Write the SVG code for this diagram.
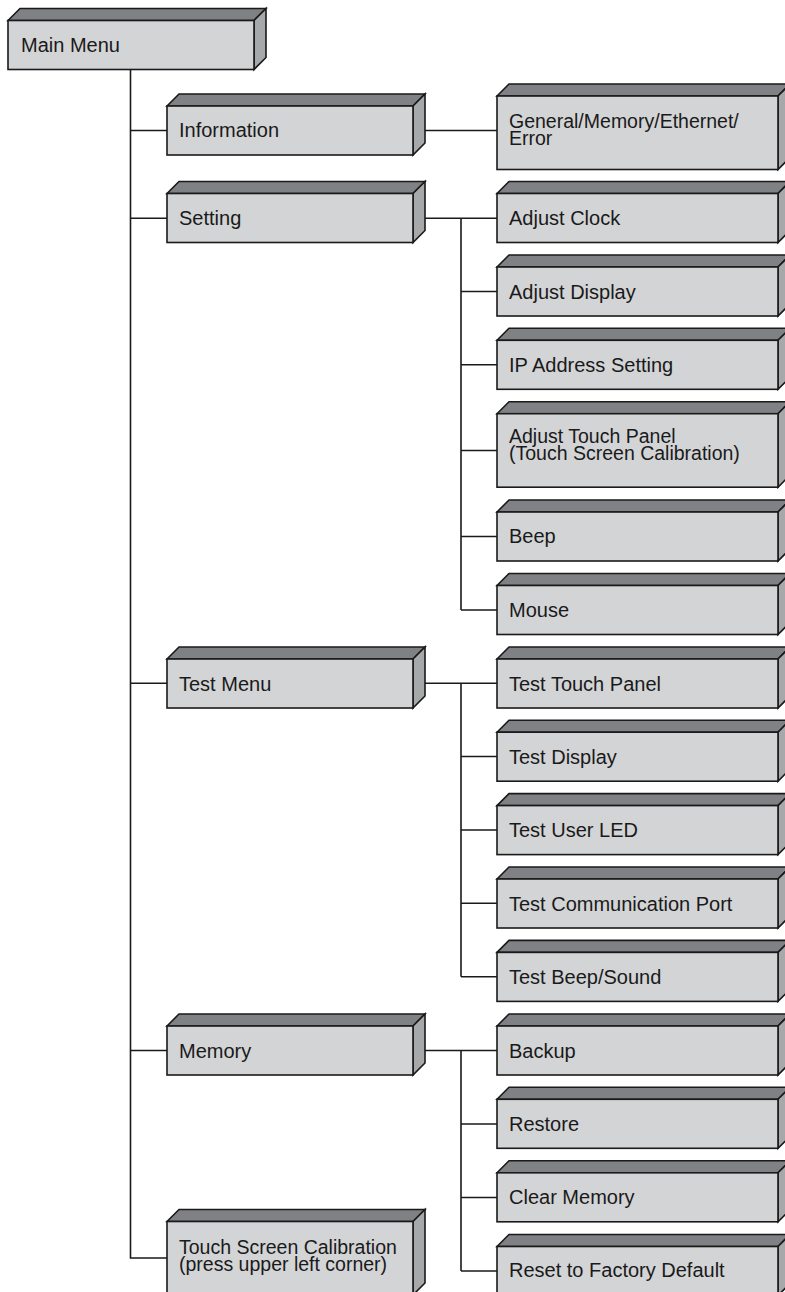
<svg xmlns="http://www.w3.org/2000/svg" xmlns:xlink="http://www.w3.org/1999/xlink" width="785" height="1292" viewBox="0 0 785 1292">
<style>
.f{fill:#d3d4d6;stroke:#1a1a1a;stroke-width:1.6;stroke-linejoin:miter}
.t{fill:#808184;stroke:#1a1a1a;stroke-width:1.6;stroke-linejoin:miter}
.s{fill:#a7a8aa;stroke:#1a1a1a;stroke-width:1.6;stroke-linejoin:miter}
.c{fill:none;stroke:#1a1a1a;stroke-width:1.6}
text{font-family:"Liberation Sans",Arial,Helvetica,sans-serif;font-size:20px;fill:#1a1a1a}
text.m{font-size:19.5px}
</style>
<defs>
<symbol id="bL1" overflow="visible"><polygon class="t" points="0,0 12,-12 258,-12 246,0"/><polygon class="s" points="246,0 258,-12 258,37 246,49"/><rect class="f" x="0" y="0" width="246" height="49"/></symbol>
<symbol id="bL2" overflow="visible"><polygon class="t" points="0,0 12,-12 258,-12 246,0"/><polygon class="s" points="246,0 258,-12 258,61.5 246,73.5"/><rect class="f" x="0" y="0" width="246" height="73.5"/></symbol>
<symbol id="bR1" overflow="visible"><polygon class="t" points="0,0 12,-12 293,-12 281,0"/><polygon class="s" points="281,0 293,-12 293,37 281,49"/><rect class="f" x="0" y="0" width="281" height="49"/></symbol>
<symbol id="bR2" overflow="visible"><polygon class="t" points="0,0 12,-12 293,-12 281,0"/><polygon class="s" points="281,0 293,-12 293,61.5 281,73.5"/><rect class="f" x="0" y="0" width="281" height="73.5"/></symbol>
</defs>
<g id="connectors">
<path class="c" d="M130.5,69 V1258 H167"/>
<path class="c" d="M130.5,130.5 H167 M130.5,218.3 H167 M130.5,683.3 H167 M130.5,1050.5 H167"/>
<path class="c" d="M425,130.5 H497"/>
<path class="c" d="M425,218.3 H497 M461,218.3 V610 M461,291.5 H497 M461,364.8 H497 M461,450.5 H497 M461,536.5 H497 M461,610 H497"/>
<path class="c" d="M425,683.3 H497 M461,683.3 V976.7 M461,756.5 H497 M461,830 H497 M461,903.3 H497 M461,976.7 H497"/>
<path class="c" d="M425,1050.5 H497 M461,1050.5 V1271 M461,1124 H497 M461,1197.5 H497 M461,1271 H497"/>
</g>
<g id="main-menu"><use xlink:href="#bL1" x="8" y="20.5"/><text x="21" y="51.5">Main Menu</text></g>
<g id="information"><use xlink:href="#bL1" x="167" y="106"/><text x="179" y="137">Information</text></g>
<g id="setting"><use xlink:href="#bL1" x="167" y="193.5"/><text x="179" y="225">Setting</text></g>
<g id="test-menu"><use xlink:href="#bL1" x="167" y="659"/><text x="179" y="690.5">Test Menu</text></g>
<g id="memory"><use xlink:href="#bL1" x="167" y="1026"/><text x="179" y="1057.5">Memory</text></g>
<g id="touch-screen-calibration"><use xlink:href="#bL2" x="167" y="1221.5"/><text class="m" x="179" y="1253.5"><tspan x="179" y="1253.5">Touch Screen Calibration</tspan><tspan x="179" y="1270.5">(press upper left corner)</tspan></text></g>
<g id="general"><use xlink:href="#bR2" x="497" y="96"/><text class="m" x="509" y="128"><tspan x="509" y="128">General/Memory/Ethernet/</tspan><tspan x="509" y="145">Error</tspan></text></g>
<g id="adjust-clock"><use xlink:href="#bR1" x="497" y="193.5"/><text x="509" y="225">Adjust Clock</text></g>
<g id="adjust-display"><use xlink:href="#bR1" x="497" y="267"/><text x="509" y="298.5">Adjust Display</text></g>
<g id="ip-address-setting"><use xlink:href="#bR1" x="497" y="340.3"/><text x="509" y="371.8">IP Address Setting</text></g>
<g id="adjust-touch-panel"><use xlink:href="#bR2" x="497" y="413.7"/><text class="m" x="509" y="442.5"><tspan x="509" y="442.5">Adjust Touch Panel</tspan><tspan x="509" y="459.5">(Touch Screen Calibration)</tspan></text></g>
<g id="beep"><use xlink:href="#bR1" x="497" y="512"/><text x="509" y="543.3">Beep</text></g>
<g id="mouse"><use xlink:href="#bR1" x="497" y="585.5"/><text x="509" y="616.8">Mouse</text></g>
<g id="test-touch-panel"><use xlink:href="#bR1" x="497" y="659"/><text x="509" y="690.5">Test Touch Panel</text></g>
<g id="test-display"><use xlink:href="#bR1" x="497" y="732.2"/><text x="509" y="763.7">Test Display</text></g>
<g id="test-user-led"><use xlink:href="#bR1" x="497" y="805.6"/><text x="509" y="837.1">Test User LED</text></g>
<g id="test-communication-port"><use xlink:href="#bR1" x="497" y="879"/><text x="509" y="910.5">Test Communication Port</text></g>
<g id="test-beep-sound"><use xlink:href="#bR1" x="497" y="952.4"/><text x="509" y="983.9">Test Beep/Sound</text></g>
<g id="backup"><use xlink:href="#bR1" x="497" y="1026"/><text x="509" y="1057.5">Backup</text></g>
<g id="restore"><use xlink:href="#bR1" x="497" y="1099.3"/><text x="509" y="1130.8">Restore</text></g>
<g id="clear-memory"><use xlink:href="#bR1" x="497" y="1172.8"/><text x="509" y="1204.3">Clear Memory</text></g>
<g id="reset-factory-default"><use xlink:href="#bR1" x="497" y="1246.5"/><text x="509" y="1277">Reset to Factory Default</text></g>
</svg>
